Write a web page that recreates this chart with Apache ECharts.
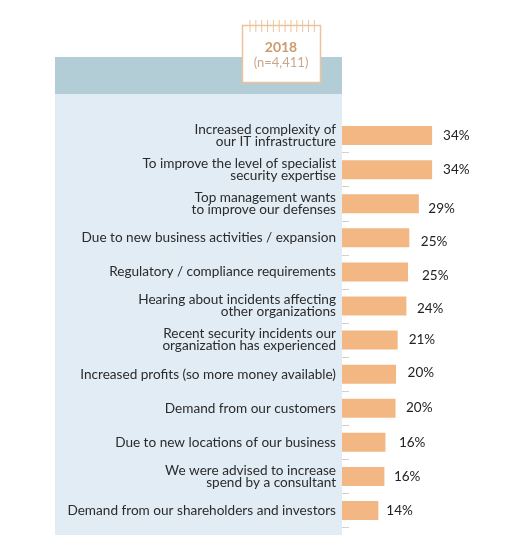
<!DOCTYPE html>
<html><head><meta charset="utf-8">
<style>html,body{margin:0;padding:0;background:#fff}#c{width:520px;height:557px}</style>
<script src="https://cdn.jsdelivr.net/npm/echarts@6/dist/echarts.min.js"></script>
</head><body><div id="c"></div>
<script>
const categories = [
  "Increased complexity of\nour IT infrastructure",
  "To improve the level of specialist\nsecurity expertise",
  "Top management wants\nto improve our defenses",
  "Due to new business activities / expansion",
  "Regulatory / compliance requirements",
  "Hearing about incidents affecting\nother organizations",
  "Recent security incidents our\norganization has experienced",
  "Increased profits (so more money available)",
  "Demand from our customers",
  "Due to new locations of our business",
  "We were advised to increase\nspend by a consultant",
  "Demand from our shareholders and investors"
];
const barValues = [34, 34, 29, 25.4, 24.9, 24.3, 21, 20.4, 20.2, 16.4, 16, 13.7];
const valueLabels = ["34%","34%","29%","25%","25%","24%","21%","20%","20%","16%","16%","14%"];
const labelGaps = [11, 11, 9.5, 11.5, 14, 10.5, 11, 11.5, 10.5, 13.5, 9.5, 8];
const labelDrops = [0, 0, 5, 4, 4, 3, 0, -1, -1, 0, 0, 0];
const calendarYear = "2018";
const calendarSample = "(n=4,411)";

const FONT = "Lato";
const chart = echarts.init(document.getElementById('c'), null, {renderer:'canvas'});
const combTicks = Array.from({length:12}, (_, i) => ({
  type:'line', z:3, silent:true,
  shape:{x1:250+i*5.85, y1:20, x2:250+i*5.85, y2:32},
  style:{stroke:'#ecc39c', lineWidth:1}
}));
chart.setOption({
  animation:false,
  backgroundColor:'#fff',
  graphic:[
    {type:'rect', z:-2, silent:true, shape:{x:55,y:94,width:287,height:441}, style:{fill:'#e1ecf4'}},
    {type:'rect', z:-2, silent:true, shape:{x:55,y:57,width:287,height:37}, style:{fill:'#b3cdd6'}},
    {type:'rect', z:2, silent:true, shape:{x:242.5,y:25.5,width:78,height:57}, style:{fill:'#fff', stroke:'#ecc39c', lineWidth:1.5}},
    ...combTicks,
    {type:'text', z:3, silent:true, x:281, y:47, style:{text:calendarYear, align:'center', verticalAlign:'middle', fill:'#cd9a6b', font:'bold 14px '+FONT}},
    {type:'text', z:3, silent:true, x:281, y:63, style:{text:calendarSample, align:'center', verticalAlign:'middle', fill:'#c9a78c', font:'13px '+FONT}}
  ],
  grid:{left:342, top:118.5, width:132.5, height:409, containLabel:false},
  xAxis:{type:'value', min:0, max:50, show:false},
  yAxis:{
    type:'category', inverse:true, data:categories,
    axisLine:{show:false},
    axisTick:{show:true, inside:true, length:7, lineStyle:{color:'#d0d0d0', width:1},
      interval:(i)=> i>0},
    axisLabel:{color:'#2b2b2b', fontFamily:FONT, fontSize:13.6, lineHeight:12, margin:6, align:'right', interval:0}
  },
  series:[{
    type:'bar', barWidth:19, silent:true,
    itemStyle:{color:'#f2b782'},
    data:barValues.map((v,i)=>({
      value:v,
      label:{show:true, position:'right', distance:labelGaps[i], offset:[0,labelDrops[i]],
        formatter:valueLabels[i], color:'#222', fontFamily:FONT, fontSize:13.5}
    }))
  }]
});
</script></body></html>
